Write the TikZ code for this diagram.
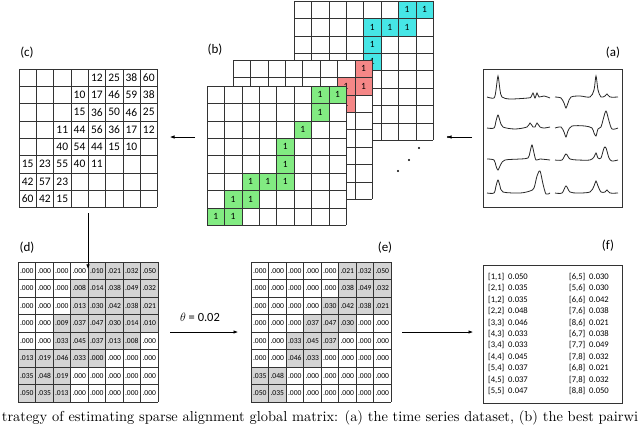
\documentclass[tikz,border=0pt]{standalone}
\usepackage{fontspec}
\setsansfont{Carlito}
\usetikzlibrary{arrows.meta}
\definecolor{gc}{RGB}{130,235,130}
\definecolor{rc}{RGB}{245,135,135}
\definecolor{cyc}{RGB}{70,230,230}
\definecolor{sh}{RGB}{212,212,212}
\tikzset{
  lab/.style={font=\sffamily\fontsize{13}{13}\selectfont},
  cnum/.style={font=\sffamily\fontsize{11.5}{12}\selectfont,inner sep=0},
  one/.style={font=\sffamily\fontsize{9.5}{10}\selectfont,inner sep=0},
  val/.style={font=\sffamily\fontsize{7.6}{8}\selectfont,inner sep=0},
  fval/.style={font=\sffamily\fontsize{8.6}{9}\selectfont,inner sep=0,anchor=west},
  gl/.style={draw=black!80,line width=0.5pt},
  arr/.style={-{Latex[length=4.5pt,width=3.5pt]},line width=0.6pt},
  wave/.style={line width=0.8pt,black!85}
}
\newcommand\mygrid[3]{% x y cell
  \foreach \i in {0,...,8}{
    \draw[gl] ({#1+\i*#3},#2) -- ++(0,{8*#3});
    \draw[gl] (#1,{#2+\i*#3}) -- ++({8*#3},0);}}
\begin{document}
\begin{tikzpicture}[x=1pt,y=-1pt]
\useasboundingbox (0,0) rectangle (640,424);
\clip (0,0) rectangle (640,424);
% ---------- (b) stack
\def\cs{17.4}
\fill[white] (294,1) rectangle +(139.2,139.2);
\foreach \r/\c in {0/6,0/7,1/4,1/5,1/6,2/4,3/4}{
  \fill[cyc] ({294+\c*\cs},{1+\r*\cs}) rectangle +(\cs,\cs);
  \node[one] at ({294+(\c+0.5)*\cs},{1+(\r+0.5)*\cs}) {1};}
\mygrid{294}{1}{\cs}
\fill[white] (233,60) rectangle +(139.2,139.2);
\foreach \r/\c in {0/7,1/6,1/7,2/6}{
  \fill[rc] ({233+\c*\cs},{60+\r*\cs}) rectangle +(\cs,\cs);
  \node[one] at ({233+(\c+0.5)*\cs},{60+(\r+0.5)*\cs}) {1};}
\mygrid{233}{60}{\cs}
\fill[white] (207,86) rectangle +(139.2,139.2);
\foreach \r/\c in {0/6,0/7,1/6,2/5,3/4,4/4,5/2,5/3,5/4,6/1,6/2,7/0,7/1}{
  \fill[gc] ({207+\c*\cs},{86+\r*\cs}) rectangle +(\cs,\cs);
  \node[one] at ({207+(\c+0.5)*\cs},{86+(\r+0.5)*\cs}) {1};}
\mygrid{207}{86}{\cs}
\foreach \p in {(448,137),(419,148),(409,160),(398,171)} \fill \p circle (1.2);
% ---------- labels
\node[lab] (lc) at (27,53) {(c)};
\node[lab] (lb) at (215,50) {(b)};
\node[lab] (la) at (613,53) {(a)};
\node[lab] (ld) at (27,248) {(d)};
\node[lab] (le) at (385,248) {(e)};
\node[lab] (lf) at (608,246) {(f)};
% ---------- (a)
\node[draw=black!80,line width=0.6pt,minimum width=139pt,minimum height=138pt,inner sep=0] (A) at (552.5,138) {};
\begin{scope}[wave]
\draw plot[smooth,tension=0.5] coordinates {(487,97)(494,98)(496,90)(498,76)(500,90)(502,97)(510,99)(528,98)(531,97)(533,93)(535,98)(537,93)(539,97)(544,96)(550,98)};
\draw plot[smooth,tension=0.5] coordinates {(555,97)(561,98)(564,103)(566,108)(568,103)(571,97)(580,96)(590,97)(594,90)(596,76)(598,90)(601,97)(605,96)(607,94)(610,97)(618,97)};
\draw plot[smooth,tension=0.5] coordinates {(487,128)(494,128)(496,121)(498,115)(500,121)(503,127)(515,129)(527,127)(530,123)(533,127)(535,127)(537,123)(540,127)(544,128)(550,127)};
\draw plot[smooth,tension=0.5] coordinates {(555,128)(561,127)(564,132)(566,137)(568,131)(572,126)(585,126)(592,128)(594,133)(596,136)(598,129)(601,127)(603,120)(606,111)(609,121)(612,129)(618,128)};
\draw plot[smooth,tension=0.5] coordinates {(487,159)(494,160)(496,166)(498,170)(501,164)(505,160)(520,159)(528,158)(530,152)(532,145)(534,153)(536,160)(540,159)(550,160)};
\draw plot[smooth,tension=0.5] coordinates {(555,160)(562,160)(566,154)(570,159)(578,160)(590,160)(594,157)(596,153)(598,158)(601,158)(604,148)(606,148)(609,158)(612,161)(618,160)};
\draw plot[smooth,tension=0.5] coordinates {(487,193)(494,193)(496,186)(498,180)(500,186)(503,192)(520,193)(530,191)(534,188)(537,176)(540,171)(543,184)(546,194)(550,193)};
\draw plot[smooth,tension=0.5] coordinates {(555,193)(562,193)(566,186)(570,192)(578,193)(590,192)(594,186)(596,181)(598,186)(601,192)(605,192)(607,190)(610,193)(618,193)};
\end{scope}
% ---------- (c)
\def\ccs{17.3}
\foreach \r/\row in {0/{,,,,12,25,38,60},1/{,,,10,17,46,59,38},2/{,,,15,36,50,46,25},3/{,,11,44,56,36,17,12},4/{,,40,54,44,15,10,},5/{15,23,55,40,11,,,},6/{42,57,23,,,,,},7/{60,42,15,,,,,}}{
  \foreach \v [count=\c from 0] in \row
    \node[cnum] (c-\r-\c) at ({19+(\c+0.5)*\ccs},{69+(\r+0.5)*\ccs}) {\v};}
\mygrid{19}{69}{\ccs}
\node[inner sep=0,minimum width=138.4pt,minimum height=138.4pt] (C) at (88.2,138.2) {};
% ---------- (d)
\def\dc{17.5}
\foreach \r/\a/\b in {0/4/7,1/3/7,2/3/7,3/2/7,4/2/6,5/0/4,6/0/2,7/0/2}
  \foreach \c in {\a,...,\b} \fill[sh] ({18+\c*\dc},{262+\r*\dc}) rectangle +(\dc,\dc);
\foreach \r/\row in {
0/{.000,.000,.000,.000,.010,.021,.032,.050},
1/{.000,.000,.000,.008,.014,.038,.049,.032},
2/{.000,.000,.000,.013,.030,.042,.038,.021},
3/{.000,.000,.009,.037,.047,.030,.014,.010},
4/{.000,.000,.033,.045,.037,.013,.008,.000},
5/{.013,.019,.046,.033,.000,.000,.000,.000},
6/{.035,.048,.019,.000,.000,.000,.000,.000},
7/{.050,.035,.013,.000,.000,.000,.000,.000}}{
  \foreach \v [count=\c from 0] in \row
    \node[val] (d-\r-\c) at ({18+(\c+0.5)*\dc},{262+(\r+0.5)*\dc}) {\v};}
\mygrid{18}{262}{\dc}
\node[inner sep=0,minimum width=140pt,minimum height=140pt] (D) at (88,332) {};
% ---------- (e)
\foreach \r/\a/\b in {0/5/7,1/5/7,2/4/7,3/3/5,4/2/4,5/2/3,6/0/1,7/0/1}
  \foreach \c in {\a,...,\b} \fill[sh] ({251+\c*\dc},{262+\r*\dc}) rectangle +(\dc,\dc);
\foreach \r/\row in {
0/{.000,.000,.000,.000,.000,.021,.032,.050},
1/{.000,.000,.000,.000,.000,.038,.049,.032},
2/{.000,.000,.000,.000,.030,.042,.038,.021},
3/{.000,.000,.000,.037,.047,.030,.000,.000},
4/{.000,.000,.033,.045,.037,.000,.000,.000},
5/{.000,.000,.046,.033,.000,.000,.000,.000},
6/{.035,.048,.000,.000,.000,.000,.000,.000},
7/{.050,.035,.000,.000,.000,.000,.000,.000}}{
  \foreach \v [count=\c from 0] in \row
    \node[val] (e-\r-\c) at ({251+(\c+0.5)*\dc},{262+(\r+0.5)*\dc}) {\v};}
\mygrid{251}{262}{\dc}
\node[inner sep=0,minimum width=140pt,minimum height=140pt] (E) at (321,332) {};
% ---------- (f)
\node[draw=black!80,line width=0.6pt,minimum width=139pt,minimum height=138pt,inner sep=0] (F) at (552.5,334) {};
\foreach \t [count=\i from 0] in {{[1,1]\ \ 0.050},{[2,1]\ \ 0.035},{[1,2]\ \ 0.035},{[2,2]\ \ 0.048},{[3,3]\ \ 0.046},{[4,3]\ \ 0.033},{[3,4]\ \ 0.033},{[4,4]\ \ 0.045},{[5,4]\ \ 0.037},{[4,5]\ \ 0.037},{[5,5]\ \ 0.047}}
  \node[fval] (fl\i) at (488,{277+\i*11.4}) {\t};
\foreach \t [count=\i from 0] in {{[6,5]\ \ 0.030},{[5,6]\ \ 0.030},{[6,6]\ \ 0.042},{[7,6]\ \ 0.038},{[8,6]\ \ 0.021},{[6,7]\ \ 0.038},{[7,7]\ \ 0.049},{[7,8]\ \ 0.032},{[6,8]\ \ 0.021},{[7,8]\ \ 0.032},{[8,8]\ \ 0.050}}
  \node[fval] (fr\i) at (569,{277+\i*11.4}) {\t};
% ---------- arrows
\coordinate (a1) at (472,137); \coordinate (a2) at (447,137);
\draw[arr] (a1) -- (a2);
\coordinate (b1) at (195,137); \coordinate (b2) at (170,137);
\draw[arr] (b1) -- (b2);
\coordinate (c1) at (88,213);
\draw[arr] (c1) -- ([yshift=-7pt]D.north);
\node[lab,font=\sffamily\fontsize{12.5}{13}\selectfont] (th) at (200,317) {$\theta$ = 0.02};
\coordinate (t1) at (170,332); \coordinate (t2) at (238,332);
\draw[arr] (t1) -- (t2);
\coordinate (u1) at (402,332); \coordinate (u2) at (473,332);
\draw[arr] (u1) -- (u2);
% ---------- caption
\node[anchor=center,inner sep=0] (cap) at (320,418) {\resizebox{636pt}{!}{trategy of estimating sparse alignment global matrix: (a) the time series dataset, (b) the best pairwi}};
\end{tikzpicture}
\end{document}
